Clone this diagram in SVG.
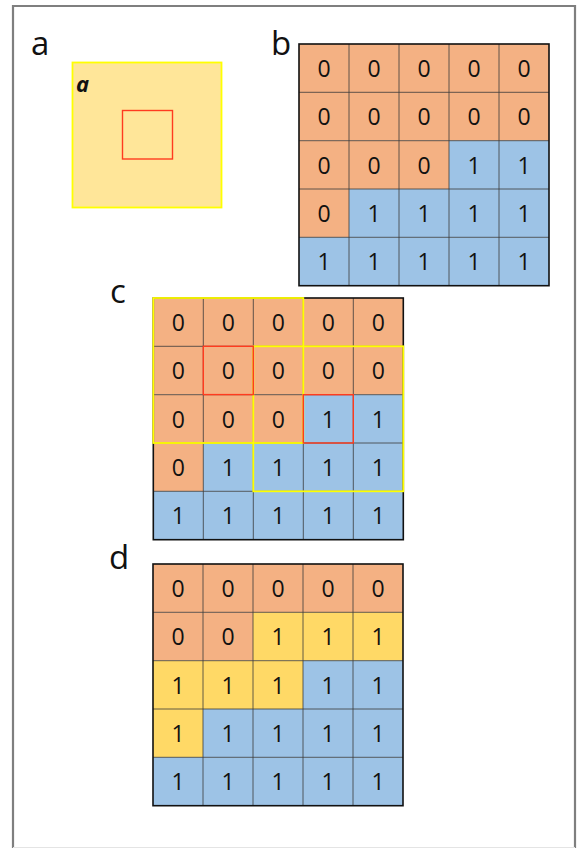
<svg xmlns="http://www.w3.org/2000/svg" width="578" height="848" viewBox="0 0 578 848">
<style>
.lbl{font-family:"Open Sans","Liberation Sans",sans-serif;font-size:33px;fill:#111}
.n{font-family:"Open Sans","Liberation Sans",sans-serif;font-size:23px;fill:#111;text-anchor:middle}
.o{fill:#F4B183}
.b{fill:#9DC3E6}
.y{fill:#FFD966}
.grid{stroke:#3a3a3a;stroke-width:0.8;fill:none}
.outer{stroke:#111;stroke-width:1.6;fill:none}
.yel{stroke:#FFFF00;stroke-width:1.8;fill:none}
.red{stroke:#FF3B1F;stroke-width:1.4;fill:none}
</style>
<rect x="0" y="0" width="578" height="848" fill="#fff"/>
<path d="M13,848 V6 H575 V848" fill="none" stroke="#7f7f7f" stroke-width="2.2"/>
<line x1="13" y1="847.5" x2="575" y2="847.5" stroke="#e4e4e4" stroke-width="1"/>

<g id="panel-a">
<text class="lbl" x="31" y="55">a</text>
<rect x="72.5" y="62.5" width="149" height="145" fill="#FFE699" stroke="#FFFF00" stroke-width="1.8"/>
<text x="76" y="92" font-family="'Open Sans','Liberation Sans',sans-serif" font-size="22" font-weight="bold" font-style="italic" fill="#111">a</text>
<rect x="122.5" y="110.5" width="50" height="48.5" fill="none" stroke="#FF3B1F" stroke-width="1.4"/>
</g>

<g id="panel-b">
<text class="lbl" x="271" y="55">b</text>
<g transform="translate(299,44)">
<rect x="0" y="0" width="250" height="96.7" class="o"/>
<rect x="0" y="96.7" width="150" height="48.3" class="o"/>
<rect x="150" y="96.7" width="100" height="48.3" class="b"/>
<rect x="0" y="145" width="50" height="48.3" class="o"/>
<rect x="50" y="145" width="200" height="48.3" class="b"/>
<rect x="0" y="193.3" width="250" height="48.3" class="b"/>
<path class="grid" d="M50,0V241.7M100,0V241.7M150,0V241.7M200,0V241.7M0,48.3H250M0,96.7H250M0,145H250M0,193.3H250"/>
<rect class="outer" x="0" y="0" width="250" height="241.7"/>
<g class="n">
<text x="25" y="33">0</text><text x="75" y="33">0</text><text x="125" y="33">0</text><text x="175" y="33">0</text><text x="225" y="33">0</text>
<text x="25" y="81.3">0</text><text x="75" y="81.3">0</text><text x="125" y="81.3">0</text><text x="175" y="81.3">0</text><text x="225" y="81.3">0</text>
<text x="25" y="129.7">0</text><text x="75" y="129.7">0</text><text x="125" y="129.7">0</text><text x="175" y="129.7">1</text><text x="225" y="129.7">1</text>
<text x="25" y="178">0</text><text x="75" y="178">1</text><text x="125" y="178">1</text><text x="175" y="178">1</text><text x="225" y="178">1</text>
<text x="25" y="226.3">1</text><text x="75" y="226.3">1</text><text x="125" y="226.3">1</text><text x="175" y="226.3">1</text><text x="225" y="226.3">1</text>
</g>
</g>
</g>

<g id="panel-c">
<text class="lbl" x="110" y="303">c</text>
<g transform="translate(153.3,298)">
<rect x="0" y="0" width="250" height="96.7" class="o"/>
<rect x="0" y="96.7" width="150" height="48.3" class="o"/>
<rect x="150" y="96.7" width="100" height="48.3" class="b"/>
<rect x="0" y="145" width="50" height="48.3" class="o"/>
<rect x="50" y="145" width="200" height="48.3" class="b"/>
<rect x="0" y="193.3" width="250" height="48.3" class="b"/>
<path class="grid" d="M50,0V241.7M100,0V241.7M150,0V241.7M200,0V241.7M0,48.3H250M0,96.7H250M0,145H250M0,193.3H250"/>
<rect class="outer" x="0" y="0" width="250" height="241.7"/>
<rect class="yel" x="0" y="0" width="150" height="145"/>
<rect class="yel" x="100" y="48.3" width="150" height="145"/>
<rect class="red" x="50" y="48.3" width="50" height="48.3"/>
<rect class="red" x="150" y="96.7" width="50" height="48.3"/>
<g class="n">
<text x="25" y="33">0</text><text x="75" y="33">0</text><text x="125" y="33">0</text><text x="175" y="33">0</text><text x="225" y="33">0</text>
<text x="25" y="81.3">0</text><text x="75" y="81.3">0</text><text x="125" y="81.3">0</text><text x="175" y="81.3">0</text><text x="225" y="81.3">0</text>
<text x="25" y="129.7">0</text><text x="75" y="129.7">0</text><text x="125" y="129.7">0</text><text x="175" y="129.7">1</text><text x="225" y="129.7">1</text>
<text x="25" y="178">0</text><text x="75" y="178">1</text><text x="125" y="178">1</text><text x="175" y="178">1</text><text x="225" y="178">1</text>
<text x="25" y="226.3">1</text><text x="75" y="226.3">1</text><text x="125" y="226.3">1</text><text x="175" y="226.3">1</text><text x="225" y="226.3">1</text>
</g>
</g>
</g>

<g id="panel-d">
<text class="lbl" x="109" y="569">d</text>
<g transform="translate(153,564)">
<rect x="0" y="0" width="250" height="48.3" class="o"/>
<rect x="0" y="48.3" width="100" height="48.3" class="o"/>
<rect x="100" y="48.3" width="150" height="48.3" class="y"/>
<rect x="0" y="96.7" width="150" height="48.3" class="y"/>
<rect x="150" y="96.7" width="100" height="48.3" class="b"/>
<rect x="0" y="145" width="50" height="48.3" class="y"/>
<rect x="50" y="145" width="200" height="48.3" class="b"/>
<rect x="0" y="193.3" width="250" height="48.3" class="b"/>
<path class="grid" d="M50,0V241.7M100,0V241.7M150,0V241.7M200,0V241.7M0,48.3H250M0,96.7H250M0,145H250M0,193.3H250"/>
<rect class="outer" x="0" y="0" width="250" height="241.7"/>
<g class="n">
<text x="25" y="33">0</text><text x="75" y="33">0</text><text x="125" y="33">0</text><text x="175" y="33">0</text><text x="225" y="33">0</text>
<text x="25" y="81.3">0</text><text x="75" y="81.3">0</text><text x="125" y="81.3">1</text><text x="175" y="81.3">1</text><text x="225" y="81.3">1</text>
<text x="25" y="129.7">1</text><text x="75" y="129.7">1</text><text x="125" y="129.7">1</text><text x="175" y="129.7">1</text><text x="225" y="129.7">1</text>
<text x="25" y="178">1</text><text x="75" y="178">1</text><text x="125" y="178">1</text><text x="175" y="178">1</text><text x="225" y="178">1</text>
<text x="25" y="226.3">1</text><text x="75" y="226.3">1</text><text x="125" y="226.3">1</text><text x="175" y="226.3">1</text><text x="225" y="226.3">1</text>
</g>
</g>
</g>
</svg>
